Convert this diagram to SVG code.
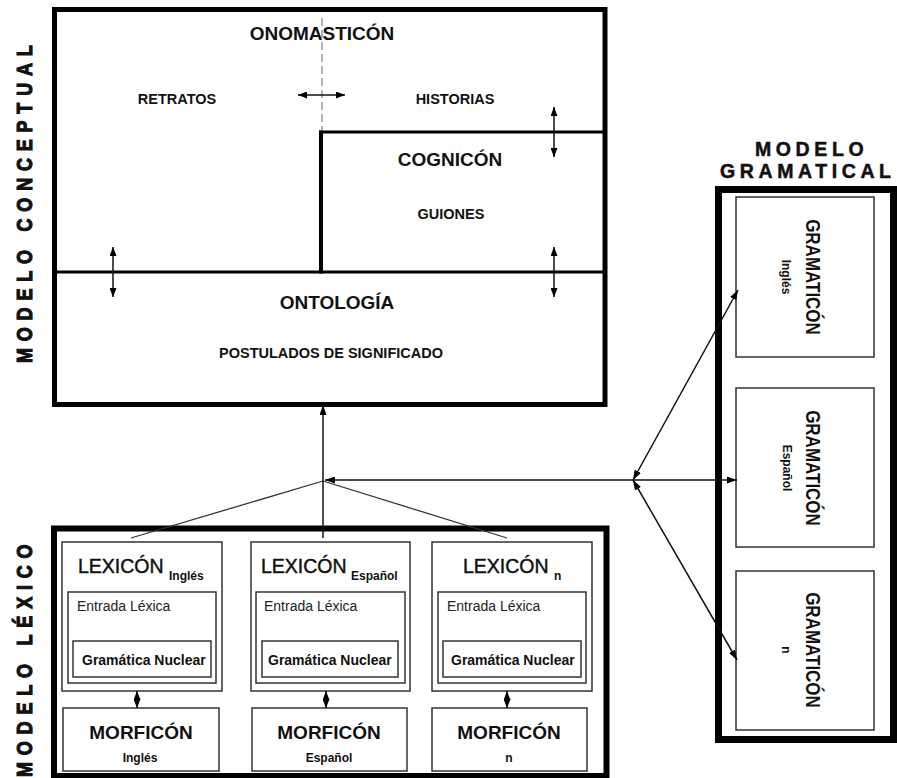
<svg xmlns="http://www.w3.org/2000/svg" width="897" height="778" viewBox="0 0 897 778">
  <style>
    text { font-family: "Liberation Sans", Arial, sans-serif; fill: #111; }
    .frame { fill: none; stroke: #000; }
    .box { fill: none; stroke: #333; stroke-width: 1.5; }
    .div { fill: none; stroke: #000; }
    .ln { fill: none; stroke: #111; stroke-width: 1.5; }
    .thin { fill: none; stroke: #333; stroke-width: 1.3; }
    .h19 { font-size: 19px; font-weight: bold; text-anchor: middle; }
    .h14 { font-size: 14.5px; font-weight: bold; text-anchor: middle; }
    .lex { font-size: 19.5px; stroke: #111; stroke-width: 0.45px; }
    .sub { font-size: 12px; font-weight: bold; }
    .entry { font-size: 14px; fill: #222; }
    .nuc { font-size: 14px; font-weight: bold; }
    .side { font-size: 18px; font-weight: bold; letter-spacing: 6.8px; stroke: #111; stroke-width: 0.9px; }
    .title { font-size: 19.5px; font-weight: bold; letter-spacing: 4.6px; stroke: #111; stroke-width: 0.5px; }
    .gram { font-size: 17px; font-weight: bold; text-anchor: middle; }
    .gsub { font-size: 12px; font-weight: bold; text-anchor: middle; }
  </style>
  <defs>
    <marker id="ah" viewBox="0 0 10 7" refX="10" refY="3.5" markerWidth="10" markerHeight="7" markerUnits="userSpaceOnUse" orient="auto-start-reverse">
      <path d="M0,0L10,3.5L0,7z" fill="#000"/>
    </marker>
    <marker id="ahs" viewBox="0 0 9 7" refX="9" refY="3.5" markerWidth="9" markerHeight="7" markerUnits="userSpaceOnUse" orient="auto-start-reverse">
      <path d="M0,0L9,3.5L0,7z" fill="#000"/>
    </marker>
  </defs>

  <rect width="897" height="778" fill="#fff"/>

  <!-- Side captions -->
  <g id="captions">
    <text class="side" transform="translate(32,363) rotate(-90) scale(1,1.2)">MODELO CONCEPTUAL</text>
    <text class="side" transform="translate(32,777) rotate(-90) scale(1,1.2)">MODELO LÉXICO</text>
    <text class="title" x="755" y="156">MODELO</text>
    <text class="title" x="720" y="178">GRAMATICAL</text>
  </g>

  <!-- Conceptual model: frame and internal partitions -->
  <g id="modelo-conceptual">
    <rect class="frame" x="54.5" y="9.5" width="550.5" height="395" stroke-width="5"/>
    <path class="div" d="M55 272H605" stroke-width="3"/>
    <path class="div" d="M321 273.5V130.5" stroke-width="4"/>
    <path class="div" d="M319 132H605" stroke-width="3"/>
    <path d="M322 18V130" fill="none" stroke="#999" stroke-width="1.5" stroke-dasharray="8 4"/>
  </g>

  <g id="onomasticon">
    <text class="h19" x="322" y="40">ONOMASTICÓN</text>
    <text class="h14" x="177" y="104">RETRATOS</text>
    <text class="h14" x="455" y="104">HISTORIAS</text>
  </g>

  <g id="cognicon">
    <text class="h19" x="450" y="166">COGNICÓN</text>
    <text class="h14" x="451" y="219">GUIONES</text>
  </g>

  <g id="ontologia">
    <text class="h19" x="337" y="309">ONTOLOGÍA</text>
    <text class="h14" x="331" y="358">POSTULADOS DE SIGNIFICADO</text>
  </g>

  <!-- Lexical model -->
  <g id="modelo-lexico">
    <rect class="frame" x="54" y="528.5" width="552.5" height="247.5" stroke-width="6"/>
  </g>

  <g id="lexicon-ingles">
    <rect class="box" x="62" y="542" width="160" height="149"/>
    <rect class="box" x="68" y="592" width="148" height="91"/>
    <rect class="box" x="73" y="641" width="138" height="36"/>
    <text class="lex" x="78" y="573">LEXICÓN</text>
    <text class="sub" x="169" y="580">Inglés</text>
    <text class="entry" x="77" y="611">Entrada Léxica</text>
    <text class="nuc" x="82" y="665">Gramática Nuclear</text>
  </g>

  <g id="lexicon-espanol">
    <rect class="box" x="251" y="542" width="159" height="149"/>
    <rect class="box" x="256" y="592" width="149" height="91"/>
    <rect class="box" x="262" y="641" width="136" height="36"/>
    <text class="lex" x="261" y="573">LEXICÓN</text>
    <text class="sub" x="351" y="580">Español</text>
    <text class="entry" x="264" y="611">Entrada Léxica</text>
    <text class="nuc" x="268" y="665">Gramática Nuclear</text>
  </g>

  <g id="lexicon-n">
    <rect class="box" x="432" y="542" width="160" height="149"/>
    <rect class="box" x="438" y="592" width="148" height="91"/>
    <rect class="box" x="443" y="641" width="138" height="36"/>
    <text class="lex" x="463" y="573">LEXICÓN</text>
    <text class="sub" x="554" y="580">n</text>
    <text class="entry" x="447" y="611">Entrada Léxica</text>
    <text class="nuc" x="451" y="665">Gramática Nuclear</text>
  </g>

  <g id="morficon-ingles">
    <rect class="box" x="63" y="708" width="156" height="63"/>
    <text class="h19" x="141" y="739">MORFICÓN</text>
    <text class="gsub" x="140" y="762">Inglés</text>
  </g>

  <g id="morficon-espanol">
    <rect class="box" x="252" y="708" width="155" height="63"/>
    <text class="h19" x="329" y="739">MORFICÓN</text>
    <text class="gsub" x="329" y="762">Español</text>
  </g>

  <g id="morficon-n">
    <rect class="box" x="432" y="708" width="155" height="63"/>
    <text class="h19" x="509" y="739">MORFICÓN</text>
    <text class="gsub" x="509" y="762">n</text>
  </g>

  <!-- Grammatical model -->
  <g id="modelo-gramatical">
    <rect class="frame" x="718.5" y="189.5" width="175" height="550" stroke-width="7"/>
  </g>

  <g id="gramaticon-ingles">
    <rect class="box" x="736" y="197" width="138" height="160"/>
    <text class="gram" transform="translate(806,277) rotate(90) scale(1,1.15)">GRAMATICÓN</text>
    <text class="gsub" transform="translate(782,277) rotate(90)">Inglés</text>
  </g>

  <g id="gramaticon-espanol">
    <rect class="box" x="736" y="388" width="138" height="159"/>
    <text class="gram" transform="translate(806,468) rotate(90) scale(1,1.15)">GRAMATICÓN</text>
    <text class="gsub" transform="translate(783,468) rotate(90)">Español</text>
  </g>

  <g id="gramaticon-n">
    <rect class="box" x="736" y="571" width="138" height="159"/>
    <text class="gram" transform="translate(806,650) rotate(90) scale(1,1.15)">GRAMATICÓN</text>
    <text class="gsub" transform="translate(782,650) rotate(90)">n</text>
  </g>

  <!-- Connectors -->
  <g id="connectors">
    <!-- exchanges inside the conceptual model -->
    <path class="ln" d="M298 95H345" stroke="#444" marker-start="url(#ahs)" marker-end="url(#ahs)"/>
    <path class="ln" d="M113 247V297" marker-start="url(#ahs)" marker-end="url(#ahs)"/>
    <path class="ln" d="M554 107V157" marker-start="url(#ahs)" marker-end="url(#ahs)"/>
    <path class="ln" d="M554 247V297" marker-start="url(#ahs)" marker-end="url(#ahs)"/>

    <!-- lexicons to conceptual model -->
    <path class="thin" d="M131 538L323 481"/>
    <path class="thin" d="M507 538L323 481"/>
    <path class="ln" d="M323 538V405" marker-end="url(#ah)"/>

    <!-- lexical model to grammatical model -->
    <path class="ln" d="M325 480H737" marker-start="url(#ah)" marker-end="url(#ah)"/>
    <path class="ln" d="M633 480L738 290" marker-start="url(#ah)" marker-end="url(#ah)"/>
    <path class="ln" d="M633 480L737 660" marker-start="url(#ah)" marker-end="url(#ah)"/>

    <!-- lexicon to morphicon -->
    <path class="ln" d="M137 691V708" marker-start="url(#ahs)" marker-end="url(#ahs)"/>
    <path class="ln" d="M326 691V708" marker-start="url(#ahs)" marker-end="url(#ahs)"/>
    <path class="ln" d="M507 691V708" marker-start="url(#ahs)" marker-end="url(#ahs)"/>
  </g>
</svg>
